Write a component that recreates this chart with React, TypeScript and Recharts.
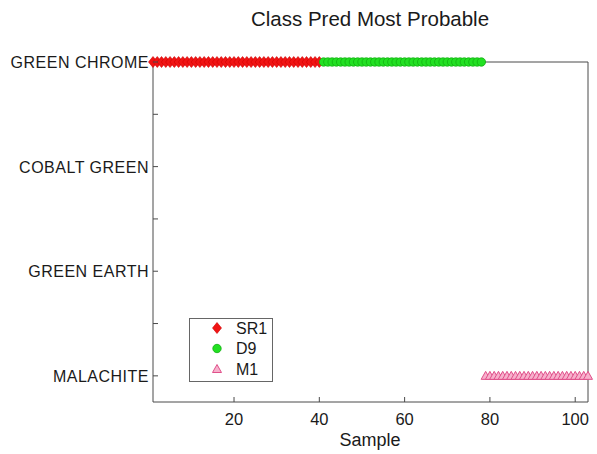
import { ScatterChart, Scatter, XAxis, YAxis, Legend } from 'recharts';

// class labels, bottom to top (y = index + 1)
const classNames = ['MALACHITE', 'GREEN EARTH', 'COBALT GREEN', 'GREEN CHROME'];

// sample numbers predicted by each model
const sr1Samples = [1, 2, 3, 4, 5, 6, 7, 8, 9, 10, 11, 12, 13, 14, 15, 16, 17, 18, 19, 20,
    21, 22, 23, 24, 25, 26, 27, 28, 29, 30, 31, 32, 33, 34, 35, 36, 37, 38, 39, 40];
const d9Samples = [41, 42, 43, 44, 45, 46, 47, 48, 49, 50, 51, 52, 53, 54, 55, 56, 57, 58, 59,
    60, 61, 62, 63, 64, 65, 66, 67, 68, 69, 70, 71, 72, 73, 74, 75, 76, 77, 78];
const m1Samples = [79, 80, 81, 82, 83, 84, 85, 86, 87, 88, 89, 90, 91, 92, 93, 94, 95, 96, 97,
    98, 99, 100, 101, 102, 103];

const sr1Class = 'GREEN CHROME';
const d9Class = 'GREEN CHROME';
const m1Class = 'MALACHITE';

const xTicks = [20, 40, 60, 80, 100];
const yTicks = [1, 1.5, 2, 2.5, 3, 3.5, 4];

const toPoints = (samples: number[], cls: string) =>
    samples.map((s) => ({ x: s, y: classNames.indexOf(cls) + 1 }));

const FONT = '"Liberation Sans", Arial, sans-serif';
const AXIS = '#4a4a4a';
const TEXT = '#1a1a1a';

const Diamond = (p: any) => {
    const { cx, cy } = p;
    return <polygon points={`${cx},${cy - 5.5} ${cx + 4.5},${cy} ${cx},${cy + 5.5} ${cx - 4.5},${cy}`} fill="#f01414" stroke="#d00000" strokeWidth={0.6} />;
};
const Dot = (p: any) => <circle cx={p.cx} cy={p.cy} r={4.2} fill="#22e022" stroke="#12b012" strokeWidth={0.8} />;
const Tri = (p: any) => {
    const { cx, cy } = p;
    return <polygon points={`${cx},${cy - 4.5} ${cx + 4.5},${cy + 3.5} ${cx - 4.5},${cy + 3.5}`} fill="#f7b0cc" stroke="#e0508a" strokeWidth={1} />;
};

const LeftTick = ({ x, y, payload }: any) => (
    <g>
        <line x1={x} y1={y} x2={x + 5} y2={y} stroke={AXIS} />
        {Number.isInteger(payload.value) && (
            <text x={x - 4} y={y} dy={6} textAnchor="end" fontSize={16} letterSpacing={0.5} fontFamily={FONT} fill={TEXT}>
                {classNames[payload.value - 1]}
            </text>
        )}
    </g>
);
const RightTick = ({ x, y }: any) => <line x1={x} y1={y} x2={x - 5} y2={y} stroke={AXIS} />;
const BottomTick = ({ x, y, payload }: any) => (
    <g>
        <line x1={x} y1={y} x2={x} y2={y - 5} stroke={AXIS} />
        <text x={x} y={y + 23} textAnchor="middle" fontSize={16.5} fontFamily={FONT} fill={TEXT}>{payload.value}</text>
    </g>
);
const TopTick = ({ x, y }: any) => <line x1={x} y1={y} x2={x} y2={y + 5} stroke={AXIS} />;

const legendItems = [
    { name: 'SR1', Shape: Diamond },
    { name: 'D9', Shape: Dot },
    { name: 'M1', Shape: Tri },
];

const LegendBox = () => (
    <svg width={84} height={64} style={{ display: 'block' }}>
        <rect x={0.5} y={0.5} width={83} height={63} fill="#fff" stroke="#666" />
        {legendItems.map((it, i) => (
            <g key={it.name}>
                <it.Shape cx={28} cy={10 + i * 20.5} />
                <text x={47} y={10 + i * 20.5} dy={5.5} fontSize={16} fontFamily={FONT} fill={TEXT}>{it.name}</text>
            </g>
        ))}
    </svg>
);

export default function App() {
    return (
        <div style={{ position: 'absolute', left: 0, top: 0, width: 597, height: 454, background: '#fff' }}>
            <ScatterChart width={597} height={454} margin={{ top: 61, right: 8, bottom: 51, left: 152 }}>
                <XAxis xAxisId="b" dataKey="x" type="number" domain={[1, 103]} ticks={xTicks}
                    height={1} tickSize={0} tickMargin={0} tickLine={false} tick={<BottomTick />} axisLine={{ stroke: AXIS }} />
                <XAxis xAxisId="t" orientation="top" type="number" domain={[1, 103]} ticks={xTicks}
                    height={1} tickSize={0} tickMargin={0} tickLine={false} tick={<TopTick />} axisLine={{ stroke: AXIS }} />
                <YAxis yAxisId="l" dataKey="y" type="number" domain={[0.75, 4]} ticks={yTicks}
                    width={1} tickSize={0} tickMargin={0} tickLine={false} tick={<LeftTick />} axisLine={{ stroke: AXIS }} />
                <YAxis yAxisId="r" orientation="right" type="number" domain={[0.75, 4]} ticks={yTicks}
                    width={1} tickSize={0} tickMargin={0} tickLine={false} tick={<RightTick />} axisLine={{ stroke: AXIS }} />
                <Scatter name="SR1" xAxisId="b" yAxisId="l" data={toPoints(sr1Samples, sr1Class)} shape={Diamond} isAnimationActive={false} />
                <Scatter name="D9" xAxisId="b" yAxisId="l" data={toPoints(d9Samples, d9Class)} shape={Dot} isAnimationActive={false} />
                <Scatter name="M1" xAxisId="b" yAxisId="l" data={toPoints(m1Samples, m1Class)} shape={Tri} isAnimationActive={false} />
                <Legend layout="horizontal" verticalAlign="middle" align="center" content={() => <LegendBox />}
                    wrapperStyle={{ left: 189, top: 318, width: 84, height: 64 }} />
                <text x={370} y={26} textAnchor="middle" fontSize={20.5} fontFamily={FONT} fill={TEXT}>Class Pred Most Probable</text>
                <text x={370} y={446} textAnchor="middle" fontSize={18} fontFamily={FONT} fill={TEXT}>Sample</text>
            </ScatterChart>
        </div>
    );
}
